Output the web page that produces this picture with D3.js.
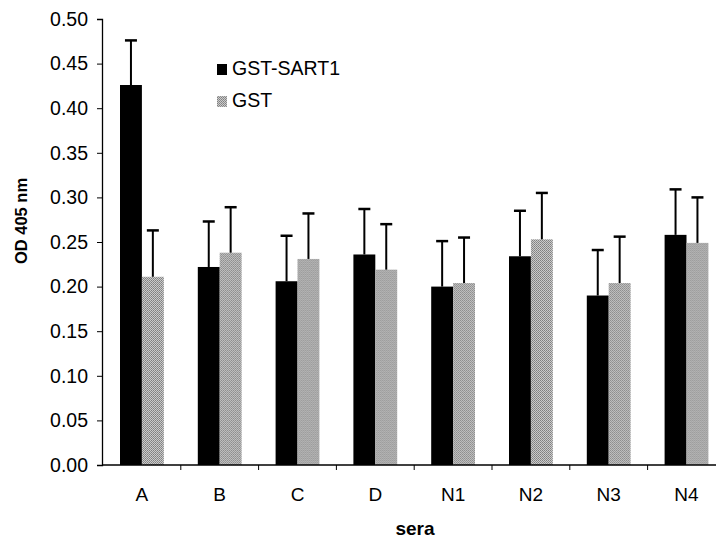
<!DOCTYPE html>
<html>
<head>
<meta charset="utf-8">
<script src="https://cdn.jsdelivr.net/npm/d3@7"></script>
<style>
  html, body { margin: 0; padding: 0; background: #fff; }
  svg { display: block; }
  text { font-family: "Liberation Sans", Arial, sans-serif; fill: #000; }
</style>
</head>
<body>
<svg id="chart" width="716" height="541"></svg>
<script>
const categories = ["A", "B", "C", "D", "N1", "N2", "N3", "N4"];
const seriesNames = ["GST-SART1", "GST"];
const sart1Values = [0.426, 0.222, 0.206, 0.236, 0.200, 0.234, 0.190, 0.258];
const sart1Errors = [0.050, 0.051, 0.051, 0.051, 0.051, 0.051, 0.051, 0.051];
const gstValues   = [0.211, 0.238, 0.231, 0.219, 0.204, 0.253, 0.204, 0.249];
const gstErrors   = [0.052, 0.051, 0.051, 0.051, 0.051, 0.052, 0.052, 0.051];
const yTicks = [0, 0.05, 0.10, 0.15, 0.20, 0.25, 0.30, 0.35, 0.40, 0.45, 0.50];

const svg = d3.select("#chart");

// dotted grey texture for GST bars
const defs = svg.append("defs");
const pat = defs.append("pattern").attr("id", "grey").attr("patternUnits", "userSpaceOnUse")
  .attr("width", 2).attr("height", 2);
pat.append("rect").attr("width", 2).attr("height", 2).attr("fill", "#cbcbcb");
pat.append("rect").attr("width", 1).attr("height", 1).attr("fill", "#808080");
pat.append("rect").attr("x", 1).attr("y", 1).attr("width", 1).attr("height", 1).attr("fill", "#8e8e8e");

const axisX0 = 102;
const x0 = d3.scaleBand().domain(categories).range([103, 725.4]).paddingInner(0).paddingOuter(0);
const bw = x0.bandwidth();
const x1 = d3.scaleBand().domain(seriesNames).range([bw * 0.2185, bw * 0.7815]).padding(0);
const y = d3.scaleLinear().domain([0, 0.5]).range([465, 19]);

const fills = { "GST-SART1": "#000", "GST": "url(#grey)" };

const data = categories.map((c, i) => ({
  cat: c,
  bars: [
    { s: "GST-SART1", v: sart1Values[i], e: sart1Errors[i] },
    { s: "GST", v: gstValues[i], e: gstErrors[i] }
  ]
}));

// bars
const g = svg.append("g");
const groups = g.selectAll("g.cat").data(data).join("g")
  .attr("transform", d => `translate(${x0(d.cat)},0)`);
groups.selectAll("rect").data(d => d.bars).join("rect")
  .attr("x", d => x1(d.s))
  .attr("width", x1.bandwidth())
  .attr("y", d => y(d.v))
  .attr("height", d => y(0) - y(d.v))
  .attr("fill", d => fills[d.s]);

// error bars (upward only)
groups.selectAll("line.err").data(d => d.bars).join("line")
  .attr("class", "err")
  .attr("x1", d => x1(d.s) + x1.bandwidth() / 2)
  .attr("x2", d => x1(d.s) + x1.bandwidth() / 2)
  .attr("y1", d => y(d.v))
  .attr("y2", d => y(d.v + d.e))
  .attr("stroke", "#000").attr("stroke-width", 2);
groups.selectAll("line.cap").data(d => d.bars).join("line")
  .attr("class", "cap")
  .attr("x1", d => x1(d.s) + x1.bandwidth() / 2 - 6)
  .attr("x2", d => x1(d.s) + x1.bandwidth() / 2 + 6)
  .attr("y1", d => y(d.v + d.e))
  .attr("y2", d => y(d.v + d.e))
  .attr("stroke", "#000").attr("stroke-width", 2.5);

// y axis
const yAxis = d3.axisLeft(y).tickValues(yTicks).tickFormat(d3.format(".2f")).tickSizeOuter(0).tickSize(5).tickPadding(9);
const yg = svg.append("g").attr("transform", `translate(${axisX0},0)`).call(yAxis);
yg.select(".domain").attr("stroke", "#000").attr("stroke-width", 1.3);
yg.selectAll(".tick line").attr("stroke", "#000").attr("stroke-width", 1);
yg.selectAll(".tick text").attr("font-size", "19.5px").attr("font-family", "Liberation Sans, Arial, sans-serif");

// x axis
const xg = svg.append("g").attr("transform", `translate(0,${y(0)})`);
xg.append("line").attr("x1", axisX0).attr("x2", 716).attr("y1", 0).attr("y2", 0)
  .attr("stroke", "#000").attr("stroke-width", 1.3);
xg.selectAll("line.tk").data(categories.slice(1)).join("line").attr("class", "tk")
  .attr("x1", d => x0(d)).attr("x2", d => x0(d)).attr("y1", 0).attr("y2", 5)
  .attr("stroke", "#000").attr("stroke-width", 1);
xg.selectAll("text").data(categories).join("text")
  .attr("x", d => x0(d) + bw / 2).attr("y", 36)
  .attr("text-anchor", "middle").attr("font-size", "19px").text(d => d);

// axis titles
svg.append("text").attr("x", 415).attr("y", 535).attr("text-anchor", "middle")
  .attr("font-size", "19px").attr("font-weight", "bold").text("sera");
svg.append("text").attr("transform", "translate(27,221) rotate(-90)").attr("text-anchor", "middle")
  .attr("font-size", "16.5px").attr("font-weight", "bold").text("OD 405 nm");

// legend
const legend = svg.append("g").attr("transform", "translate(217,0)");
const legRows = legend.selectAll("g").data(seriesNames).join("g")
  .attr("transform", (d, i) => `translate(0,${75 + i * 32})`);
legRows.append("rect").attr("x", 0).attr("y", -11).attr("width", 10).attr("height", 11)
  .attr("fill", d => fills[d]);
legRows.append("text").attr("x", 15).attr("y", 0).attr("font-size", "19.5px").text(d => d);
</script>
</body>
</html>
